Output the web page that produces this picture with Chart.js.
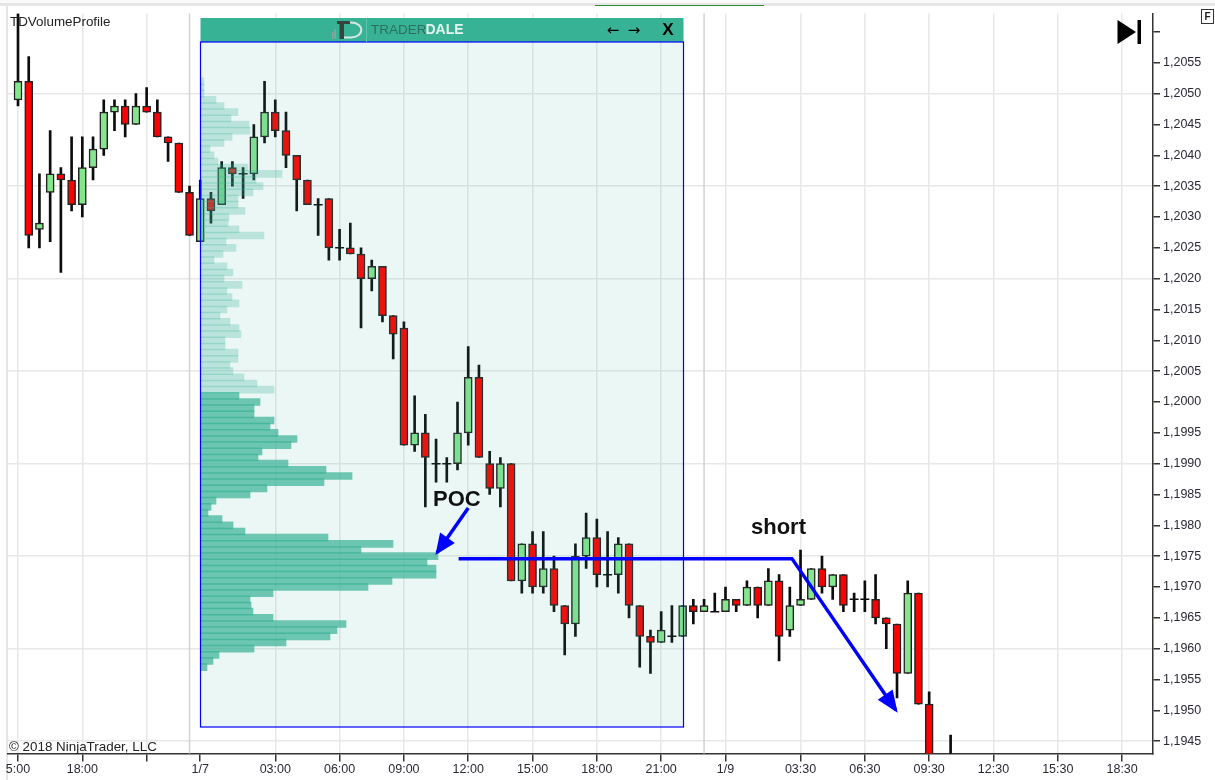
<!DOCTYPE html>
<html>
<head>
<meta charset="utf-8">
<title>TDVolumeProfile</title>
<script src="https://cdn.jsdelivr.net/npm/chart.js@4/dist/chart.umd.min.js"></script>
<style>
  html, body { margin: 0; padding: 0; background: #fff; }
  canvas { display: block; }
</style>
</head>
<body>
<canvas id="chart" width="1215" height="780"></canvas>
<script>
// 30 minute candles
const opens = [
  1.2049,1.2052,1.2028,1.2034,1.2037,1.2036,1.2032,1.2038,1.2041,1.2047,
  1.2048,1.2045,1.2048,1.2047,1.2043,1.2042,1.2034,1.2026,1.2033,1.2032,
  1.2038,1.2037,1.2037,1.2043,1.2047,1.2044,1.2040,1.2036,1.2032,1.2033,
  1.2025,1.2025,1.2024,1.2020,1.2022,1.2014,1.2012,1.1993,1.1995,1.1990,
  1.1990,1.1990,1.1995,1.2004,1.1990,1.1986,1.1990,1.1971,1.1977,1.1970,
  1.1973,1.1967,1.1964,1.1975,1.1978,1.1972,1.1972,1.1977,1.1967,1.1962,
  1.1961,1.1962,1.1962,1.1967,1.1966,1.1966,1.1966,1.1968,1.1967,1.1970,
  1.1967,1.1971,1.1963,1.1967,1.1968,1.1973,1.1970,1.1972,1.1968,1.1968,
  1.1968,1.1965,1.1964,1.1956,1.1969,1.1951,1.1940,1.1941
];
const highs = [
  1.2063,1.2056,1.2037,1.2044,1.2038,1.2043,1.2043,1.2043,1.2049,1.2049,
  1.2049,1.2050,1.2051,1.2049,1.2043,1.2042,1.2035,1.2036,1.2034,1.2039,
  1.2039,1.2038,1.2045,1.2052,1.2049,1.2047,1.2040,1.2036,1.2033,1.2033,
  1.2028,1.2029,1.2025,1.2023,1.2022,1.2014,1.2013,1.2001,1.1998,1.1994,
  1.1991,1.2000,1.2009,1.2006,1.1992,1.1991,1.1990,1.1977,1.1979,1.1979,
  1.1975,1.1967,1.1977,1.1982,1.1981,1.1979,1.1978,1.1977,1.1967,1.1963,
  1.1966,1.1967,1.1967,1.1968,1.1968,1.1969,1.1970,1.1968,1.1971,1.1970,
  1.1973,1.1972,1.1970,1.1976,1.1973,1.1975,1.1972,1.1972,1.1969,1.1971,
  1.1972,1.1965,1.1964,1.1971,1.1969,1.1953,1.1941,1.1946
];
const lows = [
  1.2048,1.2025,1.2025,1.2026,1.2021,1.2031,1.2030,1.2036,1.2040,1.2044,
  1.2043,1.2045,1.2047,1.2043,1.2039,1.2034,1.2027,1.2026,1.2029,1.2032,
  1.2035,1.2033,1.2036,1.2042,1.2043,1.2038,1.2031,1.2032,1.2027,1.2023,
  1.2023,1.2024,1.2012,1.2018,1.2013,1.2007,1.1993,1.1992,1.1983,1.1987,
  1.1987,1.1989,1.1993,1.1991,1.1985,1.1983,1.1971,1.1969,1.1969,1.1969,
  1.1966,1.1959,1.1962,1.1973,1.1970,1.1970,1.1969,1.1965,1.1957,1.1956,
  1.1961,1.1961,1.1962,1.1964,1.1966,1.1966,1.1966,1.1966,1.1967,1.1965,
  1.1967,1.1958,1.1962,1.1967,1.1968,1.1969,1.1968,1.1966,1.1966,1.1966,
  1.1964,1.1960,1.1952,1.1956,1.1951,1.1940,1.1934,1.1938
];
const closes = [
  1.2052,1.2027,1.2029,1.2037,1.2036,1.2032,1.2038,1.2041,1.2047,1.2048,
  1.2045,1.2048,1.2047,1.2043,1.2042,1.2034,1.2027,1.2033,1.2031,1.2038,
  1.2037,1.2037,1.2043,1.2047,1.2044,1.2040,1.2036,1.2032,1.2032,1.2025,
  1.2025,1.2024,1.2020,1.2022,1.2014,1.2011,1.1993,1.1995,1.1991,1.1990,
  1.1990,1.1995,1.2004,1.1991,1.1986,1.1990,1.1971,1.1977,1.1970,1.1973,
  1.1967,1.1964,1.1975,1.1978,1.1972,1.1972,1.1977,1.1967,1.1962,1.1961,
  1.1963,1.1962,1.1967,1.1966,1.1967,1.1966,1.1968,1.1967,1.1970,1.1967,
  1.1971,1.1962,1.1967,1.1968,1.1973,1.1970,1.1972,1.1967,1.1968,1.1968,
  1.1965,1.1964,1.1956,1.1969,1.1951,1.1940,1.1936,1.1938
];

// volume profile rows, top to bottom
const profilePrices = [
  1.2052,1.2051,1.2050,1.2049,1.2048,1.2047,1.2046,1.2045,1.2044,1.2043,
  1.2042,1.2041,1.2040,1.2039,1.2038,1.2037,1.2036,1.2035,1.2034,1.2033,
  1.2032,1.2031,1.2030,1.2029,1.2028,1.2027,1.2026,1.2025,1.2024,1.2023,
  1.2022,1.2021,1.2020,1.2019,1.2018,1.2017,1.2016,1.2015,1.2014,1.2013,
  1.2012,1.2011,1.2010,1.2009,1.2008,1.2007,1.2006,1.2005,1.2004,1.2003,
  1.2002,1.2001,1.2000,1.1999,1.1998,1.1997,1.1996,1.1995,1.1994,1.1993,
  1.1992,1.1991,1.1990,1.1989,1.1988,1.1987,1.1986,1.1985,1.1984,1.1983,
  1.1982,1.1981,1.1980,1.1979,1.1978,1.1977,1.1976,1.1975,1.1974,1.1973,
  1.1972,1.1971,1.1970,1.1969,1.1968,1.1967,1.1966,1.1965,1.1964,1.1963,
  1.1962,1.1961,1.1960,1.1959,1.1958,1.1957
];
const profileVolumes = [
  3,3,3,15,23,37,30,48,49,31,
  23,9,13,17,47,81,55,62,52,37,
  37,44,28,27,38,63,25,35,22,13,
  26,32,23,41,26,31,38,26,19,29,
  38,40,24,24,37,37,29,32,43,56,
  73,38,59,53,53,73,69,77,96,90,
  61,57,87,125,151,123,66,49,15,10,
  7,21,32,44,127,192,160,237,226,235,
  235,191,167,72,49,50,52,72,145,136,
  129,85,53,18,12,6
];
const valueAreaHigh = 1.2001;

// axis ticks (x is the bar number, the time axis skips the closed hours)
const xTickBars = [0,6,12,17,24,30,36,42,48,54,60,66,73,79,85,91,97,103];
const xTickLabels = ['5:00','18:00','','1/7','03:00','06:00','09:00','12:00','15:00','18:00','21:00','1/9','03:30','06:30','09:30','12:30','15:30','18:30'];
const sessionBreaks = [16,64];
const yTickValues = [
  1.2060,1.2055,1.2050,1.2045,1.2040,1.2035,1.2030,1.2025,1.2020,1.2015,1.2010,1.2005,
  1.2000,1.1995,1.1990,1.1985,1.1980,1.1975,1.1970,1.1965,1.1960,1.1955,1.1950,1.1945
];

// blue hand drawn lines
const shortLineBars = [41.1,72.2,81.9];
const shortLinePrices = [1.19746,1.19746,1.19500];
const pocArrowBars = [42,39.1];
const pocArrowPrices = [1.19828,1.19756];

const GREEN = '#86e68e';
const RED = '#ff0000';
const WICK = '#0c0c0c';
const GRID = '#e8e8e8';
const FONT = '"Liberation Sans"';

// time profile panel box
const panel = { left: 200.5, right: 683.5, top: 42, bottom: 727, headTop: 18 };

const bars = opens.map((o, i) => i);
const bodyBars = bars.filter(i => opens[i] !== closes[i]);
const dojiBars = bars.filter(i => opens[i] === closes[i]);

function drawLogo(ctx) {
  // small rising bars
  ctx.fillStyle = '#8fa39d';
  ctx.fillRect(332, 32, 1.5, 7);
  ctx.fillRect(334.5, 29, 1.5, 10);
  // T
  ctx.fillStyle = '#35433f';
  ctx.fillRect(337, 21, 13, 3);
  ctx.fillRect(339.5, 21, 4.5, 18);
  // D
  ctx.strokeStyle = '#d5e9e3';
  ctx.lineWidth = 2;
  ctx.beginPath();
  ctx.moveTo(350, 22.5);
  ctx.bezierCurveTo(365, 22, 365, 38, 350, 37.5);
  ctx.lineTo(344, 37.5);
  ctx.stroke();
  ctx.fillStyle = '#63c2ab';
  ctx.fillRect(366, 18, 1, 24);
}

const chromePlugin = {
  id: 'chrome',
  beforeDraw(chart) {
    const ctx = chart.ctx;
    ctx.save();
    // window edges
    ctx.fillStyle = '#fafafa';
    ctx.fillRect(0, 0, 1215, 3);
    ctx.fillStyle = '#e6e6e6';
    ctx.fillRect(0, 3, 1215, 3);
    ctx.fillRect(6, 3, 2, 777);
    ctx.fillStyle = '#2e8b2e';
    ctx.fillRect(595, 5, 169, 1);
    ctx.restore();
  },
  beforeDatasetsDraw(chart) {
    const ctx = chart.ctx;
    const xs = chart.scales.x;
    const area = chart.chartArea;
    ctx.save();
    ctx.strokeStyle = '#d2d2d2';
    ctx.lineWidth = 1.5;
    sessionBreaks.forEach(b => {
      const x = xs.getPixelForValue(b);
      ctx.beginPath();
      ctx.moveTo(x, area.top);
      ctx.lineTo(x, area.bottom);
      ctx.stroke();
    });
    ctx.restore();
  },
  // the panel sits over the candles, that is why they look darker inside it
  beforeDatasetDraw(chart, args) {
    if (chart.data.datasets[args.index].label !== 'profile') return;
    const ctx = chart.ctx;
    ctx.save();
    ctx.fillStyle = 'rgba(55,178,150,0.105)';
    ctx.fillRect(panel.left, panel.top, panel.right - panel.left, panel.bottom - panel.top);
    ctx.restore();
  },
  afterDatasetDraw(chart, args) {
    if (chart.data.datasets[args.index].label !== 'profile') return;
    const ctx = chart.ctx;
    ctx.save();
    ctx.fillStyle = '#38b295';
    ctx.fillRect(panel.left, panel.headTop, panel.right - panel.left, panel.top - panel.headTop);
    ctx.strokeStyle = '#0000ff';
    ctx.lineWidth = 1.2;
    ctx.strokeRect(panel.left, panel.top, panel.right - panel.left, panel.bottom - panel.top);
    drawLogo(ctx);
    ctx.textBaseline = 'middle';
    ctx.textAlign = 'left';
    ctx.font = '13.5px ' + FONT;
    ctx.fillStyle = '#2b6f60';
    ctx.fillText('TRADER', 371, 30.5);
    ctx.font = 'bold 14px ' + FONT;
    ctx.fillStyle = '#e4f4ef';
    ctx.fillText('DALE', 425.5, 30.5);
    ctx.fillStyle = '#000';
    ctx.font = '15px "DejaVu Sans"';
    ctx.textAlign = 'center';
    ctx.fillText('\u2190', 613, 31);
    ctx.fillText('\u2192', 634, 31);
    ctx.font = 'bold 17px ' + FONT;
    ctx.fillText('X', 668, 30.5);
    ctx.restore();
  },
  afterDatasetsDraw(chart) {
    const ctx = chart.ctx;
    const xs = chart.scales.x;
    const ys = chart.scales.y;
    ctx.save();
    // arrow heads on the last point of both blue lines
    [[shortLineBars, shortLinePrices, 22, 9], [pocArrowBars, pocArrowPrices, 21, 9]].forEach(([bx, py, len, half]) => {
      const n = bx.length - 1;
      const x1 = xs.getPixelForValue(bx[n]);
      const y1 = ys.getPixelForValue(py[n]);
      const x0 = xs.getPixelForValue(bx[n - 1]);
      const y0 = ys.getPixelForValue(py[n - 1]);
      const a = Math.atan2(y1 - y0, x1 - x0);
      const tipX = x1 + Math.cos(a) * 3;
      const tipY = y1 + Math.sin(a) * 3;
      const baseX = tipX - Math.cos(a) * len;
      const baseY = tipY - Math.sin(a) * len;
      ctx.fillStyle = '#0000ff';
      ctx.beginPath();
      ctx.moveTo(tipX, tipY);
      ctx.lineTo(baseX - Math.sin(a) * half, baseY + Math.cos(a) * half);
      ctx.lineTo(baseX + Math.sin(a) * half, baseY - Math.cos(a) * half);
      ctx.closePath();
      ctx.fill();
    });

    ctx.textBaseline = 'middle';
    ctx.textAlign = 'left';
    ctx.fillStyle = '#111';
    ctx.font = 'bold 22px ' + FONT;
    ctx.fillText('POC', 433, 499.5);
    ctx.fillText('short', 751, 528);

    ctx.font = '13.4px ' + FONT;
    ctx.fillStyle = '#222';
    ctx.fillText('TDVolumeProfile', 10, 22);
    ctx.fillText('\u00a9 2018 NinjaTrader, LLC', 9, 747);

    // scroll to last bar button
    ctx.fillStyle = '#000';
    ctx.beginPath();
    ctx.moveTo(1117.5, 20);
    ctx.lineTo(1136, 32);
    ctx.lineTo(1117.5, 44);
    ctx.closePath();
    ctx.fill();
    ctx.fillRect(1137.5, 20, 3.5, 24);

    // F box
    ctx.strokeStyle = '#333';
    ctx.lineWidth = 1;
    ctx.fillStyle = '#fff';
    ctx.fillRect(1201.5, 9.5, 12, 14);
    ctx.strokeRect(1201.5, 9.5, 12, 14);
    ctx.fillStyle = '#222';
    ctx.font = 'bold 10px ' + FONT;
    ctx.textAlign = 'center';
    ctx.fillText('F', 1207.5, 17);
    ctx.restore();
  }
};

new Chart(document.getElementById('chart').getContext('2d'), {
  type: 'bar',
  data: {
    datasets: [
      {
        label: 'wicks',
        order: 6,
        grouped: false,
        barThickness: 2,
        backgroundColor: WICK,
        data: bars.map(i => ({ x: i, y: [lows[i], highs[i]] }))
      },
      {
        label: 'bodies',
        order: 5,
        grouped: false,
        barThickness: 8,
        borderWidth: 1.5,
        borderSkipped: false,
        borderColor: '#222',
        backgroundColor: bodyBars.map(i => closes[i] > opens[i] ? GREEN : RED),
        data: bodyBars.map(i => ({ x: i, y: [opens[i], closes[i]] }))
      },
      {
        label: 'doji',
        type: 'line',
        order: 4,
        showLine: false,
        pointStyle: 'line',
        pointRadius: 4.5,
        pointBorderWidth: 1.5,
        pointBorderColor: WICK,
        data: dojiBars.map(i => ({ x: i, y: closes[i] }))
      },
      {
        label: 'profile',
        order: 3,
        grouped: false,
        indexAxis: 'y',
        xAxisID: 'xVol',
        yAxisID: 'y',
        barThickness: 7,
        backgroundColor: profilePrices.map(p => p > valueAreaHigh ? 'rgba(55,178,150,0.27)' : 'rgba(55,178,150,0.7)'),
        data: profilePrices.map((p, i) => ({ x: profileVolumes[i], y: p }))
      },
      {
        label: 'short',
        type: 'line',
        order: 2,
        borderColor: '#0000ff',
        borderWidth: 3.5,
        pointRadius: 0,
        tension: 0,
        data: shortLineBars.map((b, i) => ({ x: b, y: shortLinePrices[i] }))
      },
      {
        label: 'poc',
        type: 'line',
        order: 1,
        borderColor: '#0000ff',
        borderWidth: 3.5,
        pointRadius: 0,
        tension: 0,
        data: pocArrowBars.map((b, i) => ({ x: b, y: pocArrowPrices[i] }))
      }
    ]
  },
  options: {
    responsive: false,
    animation: false,
    layout: { padding: { top: 13.5, left: 8, right: 0, bottom: 0 } },
    plugins: { legend: { display: false }, tooltip: { enabled: false } },
    scales: {
      x: {
        type: 'linear',
        offset: false,
        min: -0.933,
        max: 105.88,
        afterBuildTicks: scale => { scale.ticks = xTickBars.map(v => ({ value: v })); },
        afterFit: scale => { scale.height = 26.5; },
        grid: {
          offset: false,
          color: ctx => (ctx.tick && ctx.tick.value === 17) ? 'rgba(0,0,0,0)' : GRID,
          lineWidth: 1.5,
          tickColor: '#333',
          tickLength: 8
        },
        border: { color: '#333', width: 1.5 },
        ticks: {
          autoSkip: false,
          maxRotation: 0,
          padding: 1,
          color: '#2a2a35',
          font: { family: 'Liberation Sans', size: 12.5 },
          callback: value => {
            const k = xTickBars.indexOf(value);
            return k < 0 ? '' : xTickLabels[k];
          }
        }
      },
      // same px range as x, 1 unit of volume is about 1 px, 0 is the panel edge
      xVol: {
        type: 'linear',
        axis: 'x',
        display: false,
        offset: false,
        min: -193,
        max: 952,
        grid: { display: false, offset: false }
      },
      y: {
        type: 'linear',
        position: 'right',
        offset: false,
        min: 1.1943,
        max: 1.2063,
        afterBuildTicks: scale => { scale.ticks = yTickValues.map(v => ({ value: v })); },
        afterFit: scale => { scale.width = 62; },
        grid: {
          offset: false,
          color: ctx => ctx.index % 3 === 2 ? GRID : 'rgba(0,0,0,0)',
          lineWidth: 1.5,
          tickColor: '#333',
          tickLength: 7
        },
        border: { color: '#333', width: 1.5 },
        ticks: {
          autoSkip: false,
          padding: 3,
          color: '#2a2a35',
          font: { family: 'Liberation Sans', size: 12.5 },
          callback: value => value > 1.2058 ? '' : value.toFixed(4).replace('.', ',')
        }
      }
    }
  },
  plugins: [chromePlugin]
});
</script>
</body>
</html>
